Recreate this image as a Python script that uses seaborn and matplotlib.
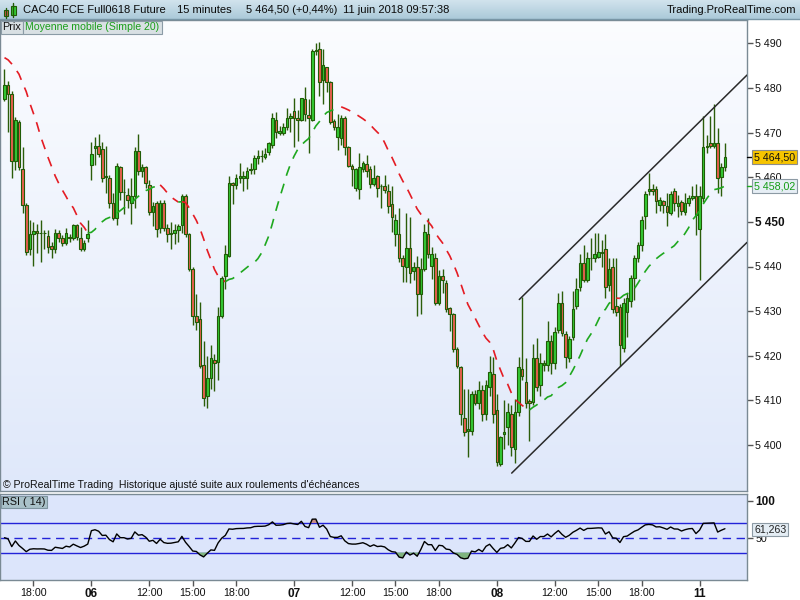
import numpy as np
import pandas as pd
import matplotlib
matplotlib.use("Agg")
import matplotlib.pyplot as plt
import matplotlib.transforms as mtransforms
from matplotlib.patches import Rectangle
import seaborn as sns

# ---------------- data (15-minute candles, 5 June 16:00 -> 11 June 09:45) ----------------
opens = [
    5477.5, 5480.7, 5478.7, 5463.7, 5472.3, 5461.8, 5453.8, 5443.9, 5447.2, 5448.0,
    5447.5, 5447.6, 5446.8, 5444.5, 5443.9, 5447.6, 5446.3, 5445.2, 5446.6, 5446.3,
    5449.2, 5446.3, 5443.9, 5446.3, 5462.7, 5466.5, 5467.0, 5466.3, 5460.0, 5459.8,
    5454.2, 5450.8, 5462.2, 5456.8, 5456.1, 5454.2, 5455.8, 5465.9, 5461.3, 5462.2,
    5458.2, 5452.3, 5454.2, 5448.6, 5454.2, 5448.6, 5447.2, 5447.6, 5448.2, 5449.2,
    5455.7, 5447.2, 5439.4, 5428.8, 5428.2, 5418.0, 5410.9, 5415.0, 5419.0, 5418.6,
    5428.8, 5437.9, 5442.4, 5458.7, 5458.2, 5459.8, 5459.8, 5459.8, 5461.6, 5461.8,
    5464.3, 5464.8, 5464.6, 5465.7, 5467.2, 5472.8, 5469.9, 5470.0, 5471.2, 5473.2,
    5474.8, 5473.2, 5472.8, 5477.5, 5474.0, 5472.8, 5488.3, 5488.7, 5481.7, 5484.6,
    5481.3, 5472.6, 5469.1, 5468.7, 5473.2, 5466.7, 5462.6, 5457.7, 5457.3, 5461.8,
    5463.0, 5461.8, 5458.5, 5460.3, 5458.0, 5458.0, 5456.9, 5454.0, 5447.2, 5447.2,
    5441.9, 5439.8, 5444.2, 5439.0, 5439.8, 5433.8, 5439.4, 5447.2, 5440.2, 5442.0,
    5431.8, 5437.9, 5436.2, 5430.6, 5429.3, 5421.5, 5417.4, 5406.0, 5403.2, 5403.2,
    5411.4, 5409.4, 5412.3, 5406.9, 5412.9, 5415.9, 5407.8, 5395.8, 5402.4, 5404.0,
    5406.9, 5399.0, 5407.3, 5417.0, 5414.2, 5409.9, 5409.7, 5419.4, 5413.4, 5418.0,
    5417.9, 5423.3, 5418.3, 5425.8, 5431.8, 5424.8, 5419.4, 5424.3, 5431.2, 5435.3,
    5440.7, 5437.0, 5441.9, 5441.9, 5442.2, 5443.2, 5443.9, 5435.9, 5439.8, 5431.1,
    5430.9, 5421.7, 5429.7, 5432.2, 5437.4, 5441.9, 5444.8, 5451.3, 5456.9, 5457.4,
    5457.4, 5453.8, 5454.6, 5453.6, 5452.0, 5456.9, 5453.6, 5454.5, 5452.3, 5454.2,
    5455.4, 5455.8, 5448.4, 5455.3, 5466.7, 5467.6, 5467.0, 5467.6, 5460.1, 5462.3,
]
highs = [
    5484.3, 5481.5, 5479.3, 5473.5, 5472.8, 5466.7, 5454.2, 5450.4, 5450.0, 5449.5,
    5450.4, 5448.2, 5448.2, 5445.5, 5448.5, 5448.2, 5447.0, 5448.6, 5447.2, 5449.6,
    5449.6, 5448.8, 5446.0, 5450.4, 5467.8, 5469.0, 5469.6, 5468.0, 5467.0, 5460.5,
    5456.5, 5463.3, 5462.5, 5459.5, 5457.5, 5459.8, 5466.7, 5469.6, 5463.0, 5462.6,
    5459.3, 5454.5, 5454.6, 5455.0, 5455.0, 5449.5, 5450.0, 5449.5, 5449.6, 5456.3,
    5456.3, 5447.6, 5439.8, 5433.8, 5432.0, 5423.3, 5420.0, 5422.3, 5420.5, 5431.0,
    5437.8, 5444.8, 5460.3, 5459.0, 5460.8, 5463.2, 5461.5, 5462.2, 5463.2, 5465.0,
    5466.0, 5466.0, 5466.5, 5467.8, 5474.3, 5474.6, 5471.5, 5472.2, 5475.5, 5474.3,
    5477.7, 5475.0, 5477.8, 5480.3, 5477.5, 5488.7, 5490.0, 5490.3, 5488.7, 5484.8,
    5481.5, 5473.0, 5474.2, 5474.0, 5473.7, 5467.0, 5463.0, 5462.0, 5465.5, 5463.6,
    5465.0, 5462.6, 5462.7, 5460.5, 5458.5, 5460.5, 5458.5, 5458.0, 5451.8, 5453.0,
    5442.6, 5452.0, 5451.0, 5441.0, 5442.4, 5442.0, 5449.5, 5450.9, 5444.4, 5443.0,
    5439.2, 5439.5, 5437.0, 5431.0, 5429.5, 5422.0, 5417.8, 5412.6, 5412.6, 5412.0,
    5412.3, 5414.4, 5413.5, 5414.5, 5420.0, 5419.8, 5411.5, 5402.0, 5410.0, 5409.5,
    5409.0, 5410.3, 5419.8, 5433.2, 5419.5, 5410.3, 5422.7, 5423.9, 5420.6, 5419.0,
    5427.7, 5424.7, 5426.5, 5434.0, 5434.5, 5425.5, 5424.5, 5434.5, 5437.5, 5442.8,
    5444.8, 5443.2, 5446.3, 5447.4, 5447.6, 5446.0, 5447.2, 5442.0, 5441.9, 5441.9,
    5431.5, 5433.0, 5434.0, 5438.0, 5442.5, 5445.5, 5451.3, 5457.0, 5460.9, 5458.5,
    5458.0, 5455.5, 5455.0, 5456.5, 5457.0, 5457.5, 5456.0, 5455.0, 5456.5, 5456.0,
    5458.0, 5458.5, 5458.0, 5473.7, 5469.5, 5473.7, 5476.4, 5471.0, 5463.2, 5467.6,
]
lows = [
    5477.0, 5470.2, 5459.8, 5461.6, 5461.6, 5452.0, 5442.6, 5442.6, 5440.2, 5443.0,
    5441.0, 5444.0, 5443.0, 5442.0, 5443.0, 5445.5, 5444.5, 5444.8, 5445.6, 5446.0,
    5446.0, 5443.5, 5443.5, 5445.5, 5459.4, 5462.7, 5464.5, 5459.0, 5456.5, 5453.0,
    5450.5, 5449.2, 5455.0, 5451.8, 5453.0, 5449.6, 5453.2, 5460.5, 5460.0, 5457.5,
    5451.5, 5449.0, 5446.5, 5447.5, 5448.0, 5445.5, 5444.0, 5445.0, 5445.5, 5447.5,
    5446.5, 5439.0, 5426.8, 5425.8, 5417.2, 5408.7, 5408.4, 5412.5, 5412.0, 5414.5,
    5428.5, 5434.9, 5442.2, 5454.0, 5457.4, 5458.7, 5457.0, 5457.4, 5460.8, 5460.8,
    5463.0, 5463.5, 5464.0, 5465.0, 5466.6, 5468.7, 5469.5, 5469.5, 5470.5, 5470.2,
    5466.7, 5468.2, 5472.5, 5472.5, 5465.4, 5472.5, 5487.5, 5478.1, 5476.5, 5479.0,
    5472.0, 5470.5, 5466.0, 5467.2, 5465.0, 5462.3, 5458.1, 5457.0, 5455.2, 5461.2,
    5460.0, 5457.5, 5458.0, 5455.5, 5453.0, 5456.5, 5452.0, 5447.8, 5444.5, 5441.0,
    5436.5, 5436.5, 5436.4, 5437.0, 5429.0, 5429.4, 5439.0, 5442.0, 5437.3, 5431.3,
    5431.3, 5434.0, 5429.8, 5425.5, 5420.8, 5417.2, 5404.5, 5402.0, 5397.4, 5402.2,
    5409.0, 5408.0, 5405.3, 5405.5, 5411.0, 5405.0, 5395.2, 5395.2, 5399.0, 5400.0,
    5397.5, 5396.0, 5406.5, 5414.5, 5408.2, 5400.8, 5409.0, 5412.0, 5411.0, 5416.5,
    5416.5, 5416.0, 5417.0, 5425.0, 5424.5, 5417.3, 5418.5, 5423.5, 5430.5, 5434.5,
    5436.5, 5436.5, 5439.2, 5441.0, 5441.8, 5440.0, 5432.9, 5434.5, 5429.5, 5429.0,
    5417.7, 5420.8, 5424.3, 5431.0, 5432.5, 5441.0, 5443.5, 5448.5, 5456.0, 5456.0,
    5452.0, 5452.5, 5452.0, 5449.0, 5451.5, 5452.5, 5451.0, 5451.5, 5451.5, 5453.5,
    5455.0, 5447.1, 5437.0, 5454.5, 5465.5, 5466.5, 5466.5, 5456.5, 5455.7, 5461.5,
]
closes = [
    5480.7, 5478.7, 5463.7, 5472.8, 5462.2, 5453.8, 5443.2, 5447.2, 5448.0, 5447.5,
    5447.6, 5447.4, 5444.3, 5443.9, 5447.6, 5446.3, 5445.2, 5447.6, 5446.3, 5449.2,
    5446.5, 5443.9, 5445.2, 5447.2, 5465.2, 5467.0, 5465.2, 5459.8, 5460.2, 5454.2,
    5450.8, 5462.6, 5456.8, 5456.8, 5454.8, 5455.8, 5465.9, 5461.3, 5462.2, 5458.7,
    5452.3, 5453.6, 5448.4, 5454.2, 5448.6, 5447.2, 5447.4, 5448.2, 5449.0, 5455.7,
    5447.2, 5439.4, 5428.8, 5427.6, 5417.7, 5410.5, 5415.0, 5419.4, 5418.3, 5428.9,
    5437.4, 5442.8, 5458.7, 5458.2, 5459.8, 5460.2, 5460.3, 5461.4, 5461.8, 5464.3,
    5464.8, 5464.8, 5465.2, 5467.6, 5473.2, 5470.2, 5470.4, 5471.2, 5473.2, 5473.7,
    5473.2, 5472.8, 5477.7, 5474.1, 5473.2, 5488.3, 5488.6, 5481.4, 5485.2, 5481.3,
    5472.3, 5471.2, 5471.2, 5473.2, 5466.7, 5462.6, 5461.8, 5461.8, 5462.4, 5463.1,
    5461.3, 5458.5, 5459.8, 5457.7, 5458.0, 5457.1, 5453.6, 5451.0, 5450.4, 5441.9,
    5440.2, 5444.2, 5438.6, 5440.0, 5433.8, 5439.4, 5447.7, 5442.7, 5442.7, 5431.8,
    5437.9, 5437.0, 5430.4, 5429.3, 5421.5, 5417.8, 5406.9, 5402.9, 5403.5, 5411.4,
    5409.4, 5412.3, 5406.9, 5413.5, 5416.3, 5406.9, 5396.2, 5401.9, 5403.0, 5407.3,
    5399.5, 5407.3, 5417.4, 5415.5, 5409.4, 5409.4, 5419.4, 5412.9, 5418.3, 5418.3,
    5423.3, 5418.3, 5425.3, 5431.8, 5425.2, 5419.8, 5423.8, 5430.4, 5435.0, 5440.7,
    5437.0, 5441.9, 5442.0, 5442.7, 5443.2, 5443.0, 5435.4, 5439.4, 5430.4, 5429.7,
    5422.3, 5431.9, 5432.9, 5437.4, 5441.9, 5444.8, 5450.4, 5456.3, 5457.4, 5456.9,
    5454.6, 5454.9, 5453.7, 5452.3, 5456.2, 5454.3, 5454.2, 5452.4, 5454.2, 5455.4,
    5455.8, 5451.6, 5455.8, 5466.7, 5467.0, 5467.1, 5467.6, 5459.8, 5462.3, 5464.5,
]
# moving average values for the first 19 candles (earlier history not shown)
ma_head = [5486.8, 5486.3, 5485.4, 5484.3, 5483.1, 5481.1, 5479.2, 5476.6, 5474.3, 5471.9,
           5469.1, 5466.8, 5464.5, 5462.4, 5460.3, 5458.6, 5457.1, 5455.7, 5454.2]
ma_period = 20
rsi_period = 14
rsi_seed = [2.2, 2.2]          # initial average gain / loss
rsi_last = 61.263

time_tick_pos = [8, 24, 40, 52, 64, 80, 96, 108, 120, 136, 152, 164, 176, 192]
time_tick_labels = ["18:00", "06", "12:00", "15:00", "18:00", "07", "12:00", "15:00",
                    "18:00", "08", "12:00", "15:00", "18:00", "11"]
day_labels = ["06", "07", "08", "11"]
price_ticks = [5400, 5410, 5420, 5430, 5440, 5450, 5460, 5470, 5480, 5490]
rsi_ticks = [50, 100]
rsi_levels = [30, 50, 70]

channel_upper_x = [142.2, 205.1]
channel_upper_y = [5432.6, 5482.9]
channel_lower_x = [140.1, 205.1]
channel_lower_y = [5393.7, 5445.4]

title_parts = ["CAC40 FCE Full0618 Future", "15 minutes", "5 464,50 (+0,44%)", "11 juin 2018 09:57:38"]
site_label = "Trading.ProRealTime.com"
footer = "\u00a9 ProRealTime Trading  Historique ajust\u00e9 suite aux roulements d'\u00e9ch\u00e9ances"

# ---------------- styling ----------------
sns.set_style("white")
plt.rcParams['font.family'] = ['Liberation Sans', 'DejaVu Sans']

W, H = 800, 600
fig = plt.figure(figsize=(8, 6), dpi=100)
fig.patch.set_facecolor('white')

def fx(x):
    return x / W

def fy(y):
    return 1 - y / H

def add_axes_px(x0, y0, x1, y1):
    return fig.add_axes([fx(x0), fy(y1), (x1 - x0) / W, (y1 - y0) / H])

def fr(v, nd):
    return f"{v:,.{nd}f}".replace(",", " ").replace(".", ",")

SPINE = '#7a8a94'
UPC, DNC = '#34c934', '#e8604f'
EDGE = '#205c06'
MA_UP, MA_DN = '#1fa81f', '#e41c24'
LAB = 7.7

o = np.array(opens); h = np.array(highs); l = np.array(lows); c = np.array(closes)
idx = np.arange(len(c))
XL = (-1.243, 205.1)

# ---------------- title bar ----------------
tb = add_axes_px(0, 0, 800, 19)
grad_t = np.linspace(0, 1, 40)[:, None]
top_col = np.array([0.82, 0.89, 0.93]); bot_col = np.array([0.67, 0.79, 0.85])
tb.imshow(top_col[None, None, :] * (1 - grad_t[..., None]) + bot_col[None, None, :] * grad_t[..., None],
          aspect='auto', extent=[0, 1, 0, 1])
tb.set_xlim(0, 1); tb.set_ylim(0, 1)
tb.axis('off')
fig.add_artist(plt.Line2D([0, 1], [fy(19), fy(19)], color='#7896a6', lw=1, transform=fig.transFigure))

# icon
for (x0, y0, x1, y1, wt, wb, fc) in [(3.5, 10, 7.5, 16, 8, 18, '#e05050'), (11, 6, 15.5, 15, 3, 16.5, '#35cc35')]:
    xm = (x0 + x1) / 2
    fig.add_artist(plt.Line2D([fx(xm), fx(xm)], [fy(wt), fy(wb)], color=EDGE, lw=1, transform=fig.transFigure))
    fig.add_artist(Rectangle((fx(x0), fy(y1)), (x1 - x0) / W, (y1 - y0) / H, transform=fig.transFigure,
                             fc=fc, ec=EDGE, lw=0.8))

for xpos, txt in zip([23.3, 177, 246, 343], title_parts):
    fig.text(fx(xpos), fy(10), txt, fontsize=8, color='#0a0a0a', va='center', ha='left')
fig.text(fx(796.5), fy(10), site_label, fontsize=8, color='#0a0a0a', va='center', ha='right')

# ---------------- main price panel ----------------
MX0, MY0, MX1, MY1 = 0, 20, 747, 491
bg = add_axes_px(MX0, MY0, MX1, MY1)
g = np.linspace(0, 1, 200)[:, None, None]
ctop = np.array([0.985, 0.99, 1.0]); cbot = np.array([0.875, 0.91, 0.98])
bg.imshow(ctop * (1 - g) + cbot * g, aspect='auto', extent=[0, 1, 0, 1])
bg.axis('off')
bg.set_zorder(0)

ax = add_axes_px(MX0, MY0, MX1, MY1)
ax.set_zorder(1)
ax.patch.set_alpha(0)

ax.vlines(idx, np.minimum(l, np.minimum(o, c)), np.maximum(h, np.maximum(o, c)),
          color='#2b5d0a', lw=1.0, zorder=2)
ax.bar(idx, np.abs(c - o), bottom=np.minimum(o, c), width=0.72,
       color=np.where(c >= o, UPC, DNC), edgecolor=EDGE, linewidth=0.8, zorder=3)

# simple moving average (20)
ma = pd.Series(c).rolling(ma_period).mean().to_numpy()
ma[:ma_period - 1] = ma_head
rising = np.diff(ma) >= 0
start = 0
for k in range(1, len(rising) + 1):
    if k == len(rising) or rising[k] != rising[start]:
        sl = slice(start, k + 1)
        ax.plot(idx[sl], ma[sl], color=MA_UP if rising[start] else MA_DN, lw=1.2,
                dashes=(6, 5), zorder=4, dash_capstyle='butt')
        start = k

ax.plot(channel_upper_x, channel_upper_y, color='#2a2a2a', lw=1.1, zorder=5)
ax.plot(channel_lower_x, channel_lower_y, color='#2a2a2a', lw=1.1, zorder=5)

ylo = 5480 - (MY1 - 88) / 4.4625
yhi = 5480 + (88 - MY0) / 4.4625
ax.set_xlim(*XL)
ax.set_ylim(ylo, yhi)
ax.set_xticks([])
ax.yaxis.tick_right()
ax.set_yticks(price_ticks)
ax.set_yticklabels([fr(p, 0) for p in price_ticks])
ax.tick_params(axis='y', length=4, width=1, color='#555555', pad=2, labelsize=LAB, labelcolor='#111111')
for t in ax.get_yticklabels():
    if t.get_text() == fr(5450, 0):
        t.set_fontweight('bold')
        t.set_fontsize(LAB + 0.8)
for s in ax.spines.values():
    s.set_color(SPINE); s.set_linewidth(1)

bt = mtransforms.blended_transform_factory(ax.transAxes, ax.transData)
last_close = c[-1]
ax.plot([1.0, 1.008], [last_close, last_close], color='black', lw=1, transform=bt, clip_on=False, zorder=9)
ax.text(1.0095, last_close, fr(last_close, 2), transform=bt, fontsize=LAB, color='#111111',
        va='center', ha='left', clip_on=False, zorder=10,
        bbox=dict(boxstyle='square,pad=0.17', fc='#f6c400', ec='#8c8c8c', lw=0.8))
ax.plot([1.0, 1.008], [ma[-1], ma[-1]], color=MA_UP, lw=1, transform=bt, clip_on=False, zorder=9)
ax.text(1.0095, ma[-1], fr(ma[-1], 2), transform=bt, fontsize=LAB, color='#149c14',
        va='center', ha='left', clip_on=False, zorder=10,
        bbox=dict(boxstyle='square,pad=0.17', fc='#e6eef5', ec='#8c9aa4', lw=0.8))

# legend boxes
def fig_box(x0, y0, x1, y1, fc, ec):
    fig.add_artist(Rectangle((fx(x0), fy(y1)), (x1 - x0) / W, (y1 - y0) / H, transform=fig.transFigure,
                             fc=fc, ec=ec, lw=0.8, zorder=5))

fig_box(0.5, 20.5, 22.5, 33.5, '#d9e0e4', '#8b9ba6')
fig_box(22.5, 20.5, 162, 33.5, '#d9e0e4', '#8b9ba6')
fig.text(fx(2.5), fy(27.2), "Prix", fontsize=7.8, color='#111111', va='center', ha='left', zorder=6)
fig.text(fx(25), fy(27.2), "Moyenne mobile (Simple 20)", fontsize=7.6, color='#1a9e1a', va='center', ha='left', zorder=6)
fig.text(fx(3), fy(484.5), footer, fontsize=7.6, color='#111111', va='center', ha='left', zorder=6)

# ---------------- RSI panel ----------------
RX0, RY0, RX1, RY1 = 0, 494, 747, 580
axr = add_axes_px(RX0, RY0, RX1, RY1)
axr.set_facecolor('#dce5fb')

delta = np.diff(c)
ag, al = rsi_seed
rsi = [100 - 100 / (1 + ag / al)]
for d in delta:
    ag = (ag * (rsi_period - 1) + max(d, 0)) / rsi_period
    al = (al * (rsi_period - 1) + max(-d, 0)) / rsi_period
    rsi.append(100 - 100 / (1 + ag / al))
rsi = np.array(rsi)

axr.fill_between(idx, rsi, 70, where=rsi > 70, interpolate=True, color='#c98a86', zorder=2, lw=0)
axr.fill_between(idx, rsi, 30, where=rsi < 30, interpolate=True, color='#7fb47f', zorder=2, lw=0)
axr.axhline(rsi_levels[2], color='#2323d8', lw=1.0, zorder=1)
axr.axhline(rsi_levels[0], color='#2323d8', lw=1.0, zorder=1)
axr.axhline(rsi_levels[1], color='#2323d8', lw=1.0, dashes=(6, 4), zorder=1)
sns.lineplot(x=idx, y=rsi, ax=axr, color='black', lw=1.0, zorder=3)

rlo = 50 - (RY1 - 537.7) / 0.74
rhi = 50 + (537.7 - RY0) / 0.74
axr.set_xlim(*XL)
axr.set_ylim(rlo, rhi)
axr.set_xlabel(''); axr.set_ylabel('')
axr.yaxis.tick_right()
axr.set_yticks(rsi_ticks)
axr.set_yticklabels([str(v) for v in rsi_ticks])
axr.tick_params(axis='y', length=4, width=1, color='#555555', pad=2, labelsize=LAB, labelcolor='#111111')
for t in axr.get_yticklabels():
    if t.get_text() == "100":
        t.set_fontweight('bold'); t.set_fontsize(LAB + 0.8)
axr.set_xticks(time_tick_pos)
axr.set_xticklabels(time_tick_labels)
axr.tick_params(axis='x', length=4, width=1, color='#555555', pad=1.5, labelsize=LAB, labelcolor='#111111',
                bottom=True)
for t in axr.get_xticklabels():
    if t.get_text() in day_labels:
        t.set_fontweight('bold'); t.set_fontsize(LAB + 0.8)
for s in axr.spines.values():
    s.set_color(SPINE); s.set_linewidth(1)

btr = mtransforms.blended_transform_factory(axr.transAxes, axr.transData)
axr.text(1.0095, rsi_last, fr(rsi_last, 3), transform=btr, fontsize=LAB, color='#222222',
         va='center', ha='left', clip_on=False, zorder=10,
         bbox=dict(boxstyle='square,pad=0.17', fc='#e4edf4', ec='#8c9aa4', lw=0.8))

fig_box(0.5, 495.5, 47, 508, '#a9c1c9', '#7f95a0')
fig.text(fx(2.5), fy(501.8), "RSI ( 14)", fontsize=7.8, color='#111111', va='center', ha='left', zorder=6)

fig.savefig("out.png", dpi=100)
